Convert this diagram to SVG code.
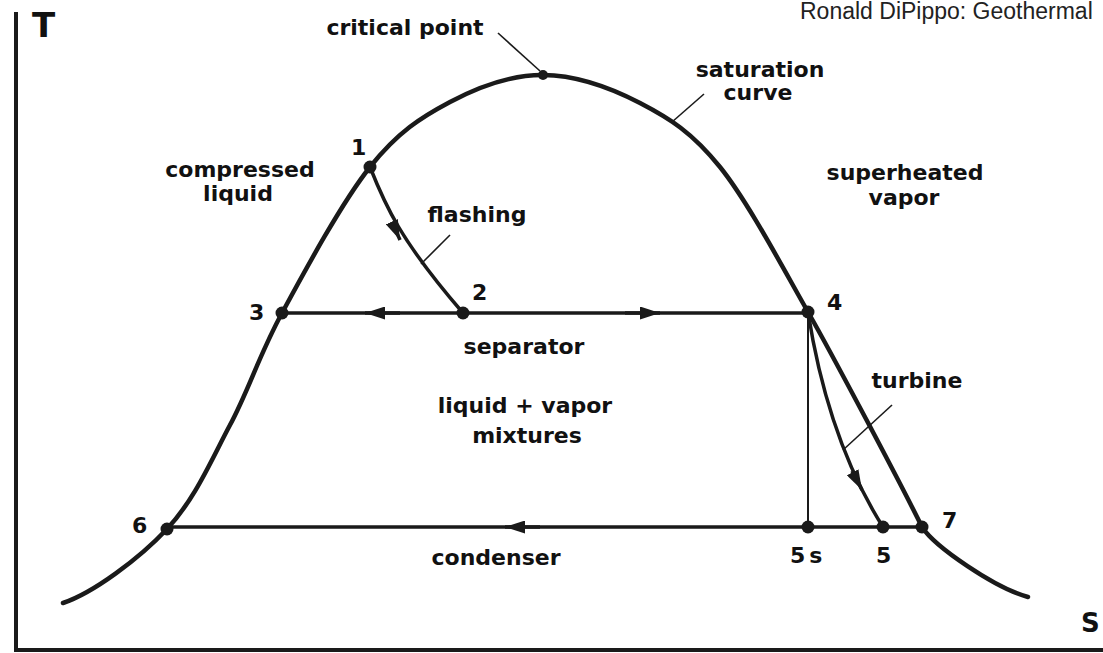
<svg xmlns="http://www.w3.org/2000/svg" width="1103" height="653" viewBox="0 0 1103 653">
<style>
.lbl{font-family:"DejaVu Sans","Liberation Sans",sans-serif;font-weight:bold;font-size:22px;fill:#111}
.mid{text-anchor:middle}
.curve{fill:none;stroke:#1a1a1a;stroke-width:4.5;stroke-linecap:round;stroke-linejoin:round}
.proc{fill:none;stroke:#1a1a1a;stroke-width:3.5}
.thin{fill:none;stroke:#1a1a1a;stroke-width:2}
.lead{fill:none;stroke:#1a1a1a;stroke-width:1.6}
.dot{fill:#1a1a1a}
.axis{fill:none;stroke:#1a1a1a;stroke-width:4}
</style>
<defs>
<marker id="arr" viewBox="0 0 20 13" refX="20" refY="6.5" markerWidth="20" markerHeight="13" markerUnits="userSpaceOnUse" orient="auto">
<path d="M0,0 L20,6.5 L0,13 z" fill="#1a1a1a"/>
</marker>
</defs>
<rect width="1103" height="653" fill="#fff"/>
<text x="800" y="19" style="font-family:'Liberation Sans',Arial,sans-serif;font-size:23px;fill:#222">Ronald DiPippo: Geothermal</text>
<g id="axes">
<path class="axis" d="M16,12 V650"/>
<path class="axis" d="M14,650 H1103"/>
<text class="lbl" x="32" y="37" style="font-size:34px">T</text>
<text class="lbl" x="1081" y="632" style="font-size:26px">S</text>
</g>
<g id="saturation-curve">
<path class="curve" d="M63,603 C93,593 139.2,558.7 167,529 C194.8,499.3 210.8,461 230,425 C249.2,389 258.7,356 282,313 C305.3,270 342,202.2 370,167 C398,131.8 421.2,117.3 450,102 C478.8,86.7 511.3,74.8 543,75 C574.7,75.2 610.5,87.7 640,103 C669.5,118.3 692,132.2 720,167 C748,201.8 783,268.2 808,312 C833,355.8 904,490 922,527 C935,547 995,588 1028,597"/>
<text class="lbl mid" x="760" y="77">saturation</text>
<text class="lbl mid" x="758" y="100">curve</text>
</g>
<g id="connectors">
<path class="proc" d="M282,313 H808"/>
<path class="proc" d="M400,313 L365,313" marker-end="url(#arr)"/>
<path class="proc" d="M625,313 L660,313" marker-end="url(#arr)"/>
<path class="proc" d="M167,527 H922"/>
<path class="proc" d="M540,527 L505,527" marker-end="url(#arr)"/>
<path class="thin" d="M808,312 V527"/>
<path class="proc" d="M370,167 C385,205 400,240 463,313"/>
<path class="proc" d="M392,222 L400,240" marker-end="url(#arr)"/>
<path class="proc" d="M808,312 Q828,440 883,527"/>
<path class="proc" d="M852,471 L862,490" marker-end="url(#arr)"/>
<path class="lead" d="M498,33 L540,71"/>
<path class="lead" d="M704,94 L672,122"/>
<path class="lead" d="M450,235 L421,264"/>
<path class="lead" d="M892,405 L843,450"/>
</g>
<g id="critical-point">
<circle class="dot" cx="543" cy="75" r="5"/>
<text class="lbl mid" x="405" y="35">critical point</text>
</g>
<g id="p1">
<circle class="dot" cx="370" cy="167" r="6.5"/>
<text class="lbl" x="351" y="155">1</text>
</g>
<g id="p2">
<circle class="dot" cx="463" cy="313" r="6.5"/>
<text class="lbl" x="472" y="300">2</text>
</g>
<g id="p3">
<circle class="dot" cx="282" cy="313" r="6.5"/>
<text class="lbl" x="249" y="320">3</text>
</g>
<g id="p4">
<circle class="dot" cx="808" cy="312" r="6.5"/>
<text class="lbl" x="827" y="310">4</text>
</g>
<g id="p5s">
<circle class="dot" cx="808" cy="527" r="6.5"/>
<text class="lbl" x="790" y="563" style="letter-spacing:4px">5s</text>
</g>
<g id="p5">
<circle class="dot" cx="883" cy="527" r="6.5"/>
<text class="lbl" x="876" y="563">5</text>
</g>
<g id="p6">
<circle class="dot" cx="167" cy="529" r="6.5"/>
<text class="lbl" x="132" y="533">6</text>
</g>
<g id="p7">
<circle class="dot" cx="922" cy="527" r="6.5"/>
<text class="lbl" x="942" y="528">7</text>
</g>
<g id="region-labels">
<text class="lbl mid" x="240" y="177">compressed</text>
<text class="lbl mid" x="238" y="201">liquid</text>
<text class="lbl mid" x="905" y="180">superheated</text>
<text class="lbl mid" x="904" y="205">vapor</text>
<text class="lbl mid" x="525" y="413">liquid + vapor</text>
<text class="lbl mid" x="527" y="443">mixtures</text>
</g>
<g id="process-labels">
<text class="lbl mid" x="477" y="222">flashing</text>
<text class="lbl mid" x="524" y="354">separator</text>
<text class="lbl mid" x="917" y="388">turbine</text>
<text class="lbl mid" x="496" y="565">condenser</text>
</g>
</svg>
